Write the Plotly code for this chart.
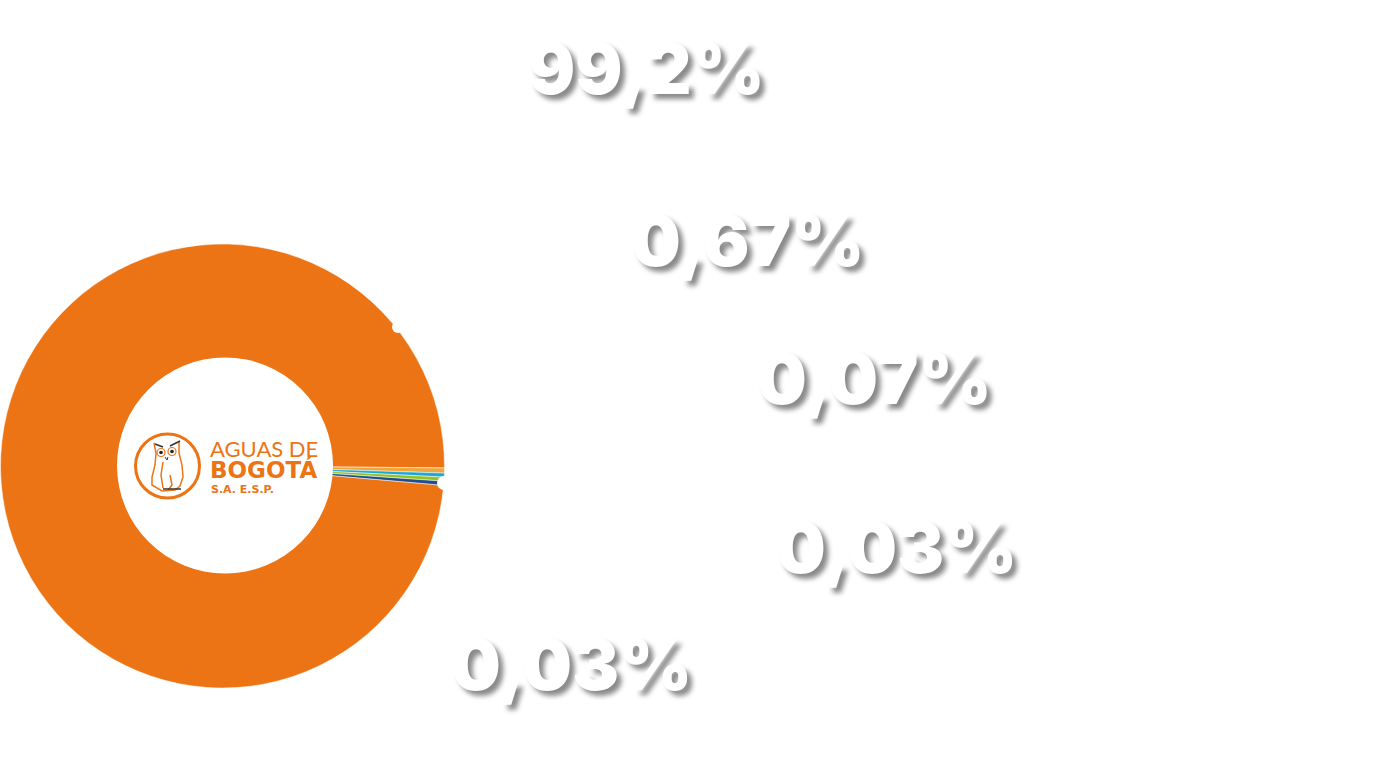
import plotly.graph_objects as go

W, H = 1386, 769

slice_names = ["Principal", "Segundo", "Tercero", "Cuarto", "Quinto"]
slice_values = [98.75, 0.37, 0.29, 0.29, 0.30]
slice_colors = ["#EC7414", "#F0A63C", "#1EA7D5", "#95C11F", "#1F4E8C"]

label_texts = ["99,2%", "0,67%", "0,07%", "0,03%", "0,03%"]
label_x = [646, 747, 874, 896, 571]
label_y = [68, 240, 378, 547, 664]

ORANGE = "#EC7414"


def px(x, y):
    return x / W, 1 - y / H


def path(points):
    coords = [px(x, y) for x, y in points]
    return "M " + " L ".join(f"{x:.5f} {y:.5f}" for x, y in coords)


def circle(cx, cy, r, line=None, lw=0, fill="rgba(0,0,0,0)"):
    x0, y0 = px(cx - r, cy - r)
    x1, y1 = px(cx + r, cy + r)
    return dict(type="circle", xref="paper", yref="paper", x0=x0, y0=y0, x1=x1, y1=y1,
                line=dict(color=line or "rgba(0,0,0,0)", width=lw), fillcolor=fill, layer="above")


def stroke(points, color=ORANGE, lw=1.5):
    return dict(type="path", xref="paper", yref="paper", path=path(points),
                line=dict(color=color, width=lw), layer="above")


fig = go.Figure(go.Pie(
    labels=slice_names,
    values=slice_values,
    hole=0.47,
    sort=False,
    direction="clockwise",
    rotation=95,
    textinfo="none",
    showlegend=False,
    marker=dict(colors=slice_colors, line=dict(color="white", width=0.5)),
    domain=dict(x=[0.5 / W, 444.5 / W], y=[1 - 688 / H, 1 - 244 / H]),
))

shapes = [
    # the hole sits a little right of the ring's centre
    circle(225, 465.5, 108, fill="white"),
    # white dots at the leader ends
    circle(398, 327, 6, fill="white"),
    circle(444, 483, 7, fill="white"),
    # logo
    circle(167.5, 466, 32, line=ORANGE, lw=3),
    stroke([(154, 443), (156, 453), (155, 465), (152, 477), (152, 485), (162, 491), (175, 490), (180, 486), (183, 477), (182, 465), (179, 453), (179, 442)]),
    stroke([(163, 462), (161, 475), (163, 488)]),
    stroke([(170, 475), (172, 485), (168, 490)]),
    stroke([(155, 444), (163, 447)], color="#333333"),
    stroke([(170, 446), (180, 441)], color="#333333"),
    stroke([(163, 489), (181, 489)], color="#333333", lw=1.5),
    circle(161, 452.5, 4, line=ORANGE, lw=1.2),
    circle(172, 451.5, 4, line=ORANGE, lw=1.2),
    circle(161, 452.5, 1.8, fill="#222222"),
    circle(172, 451.5, 1.8, fill="#222222"),
    stroke([(165, 457), (167, 460), (168, 457)], color="#333333", lw=1),
]

annotations = []
for text, x, y in zip(label_texts, label_x, label_y):
    ax, ay = px(x, y)
    annotations.append(dict(
        text=text, x=ax, y=ay, xref="paper", yref="paper",
        xanchor="center", yanchor="middle", showarrow=False,
        font=dict(family="Inter", size=70, weight=900, color="white", shadow="5px 5px 5px #8a8a8a"),
    ))

logo_texts = [
    ("AGUAS DE", 208, 448, 22, "Lato", 400),
    ("BOGOTÁ", 208, 469, 23, "DejaVu Sans", 700),
    ("S.A. E.S.P.", 209, 489, 11, "DejaVu Sans", 700),
]
for text, x, y, size, family, weight in logo_texts:
    ax, ay = px(x, y)
    annotations.append(dict(
        text=text, x=ax, y=ay, xref="paper", yref="paper",
        xanchor="left", yanchor="middle", showarrow=False,
        font=dict(family=family, size=size, weight=weight, color=ORANGE),
    ))

fig.update_layout(
    width=W,
    height=H,
    margin=dict(l=0, r=0, t=0, b=0),
    paper_bgcolor="white",
    plot_bgcolor="white",
    shapes=shapes,
    annotations=annotations,
)

fig.write_html("out.html", config=dict(displayModeBar=False), post_script="document.body.style.margin='0';")
